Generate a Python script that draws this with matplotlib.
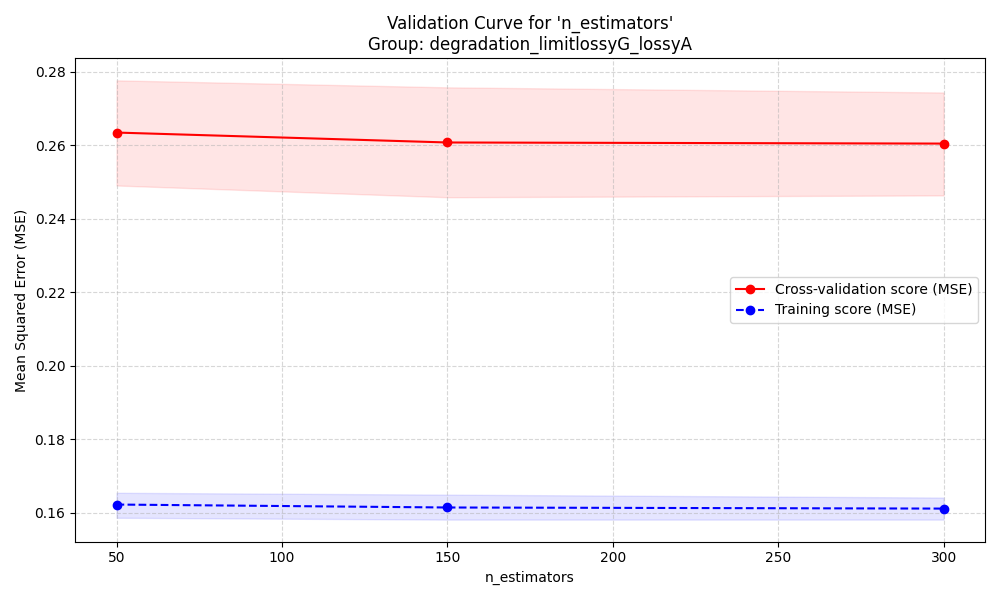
import numpy as np
from matplotlib import pyplot as plt

# Values
param_range = [50, 150, 300]
cv_mean = [0.2634, 0.2607, 0.2604]
cv_upper = [0.2776, 0.2757, 0.2743]
cv_lower = [0.2490, 0.2458, 0.2463]
train_mean = [0.1622, 0.1614, 0.1611]
train_upper = [0.1654, 0.1649, 0.1641]
train_lower = [0.1586, 0.1581, 0.1581]

plt.figure(figsize=(10, 6), dpi=100)
plt.plot(param_range, cv_mean, "o-", color="red", label="Cross-validation score (MSE)")
plt.fill_between(param_range, cv_lower, cv_upper, color="red", alpha=0.1)
plt.plot(param_range, train_mean, "o--", color="blue", label="Training score (MSE)")
plt.fill_between(param_range, train_lower, train_upper, color="blue", alpha=0.1)

plt.title("Validation Curve for 'n_estimators'\nGroup: degradation_limitlossyG_lossyA")
plt.xlabel("n_estimators")
plt.ylabel("Mean Squared Error (MSE)")
plt.legend(loc="center right")
plt.grid(True, linestyle="--", alpha=0.5)
plt.tight_layout()
plt.savefig("out.png")
plt.close()
